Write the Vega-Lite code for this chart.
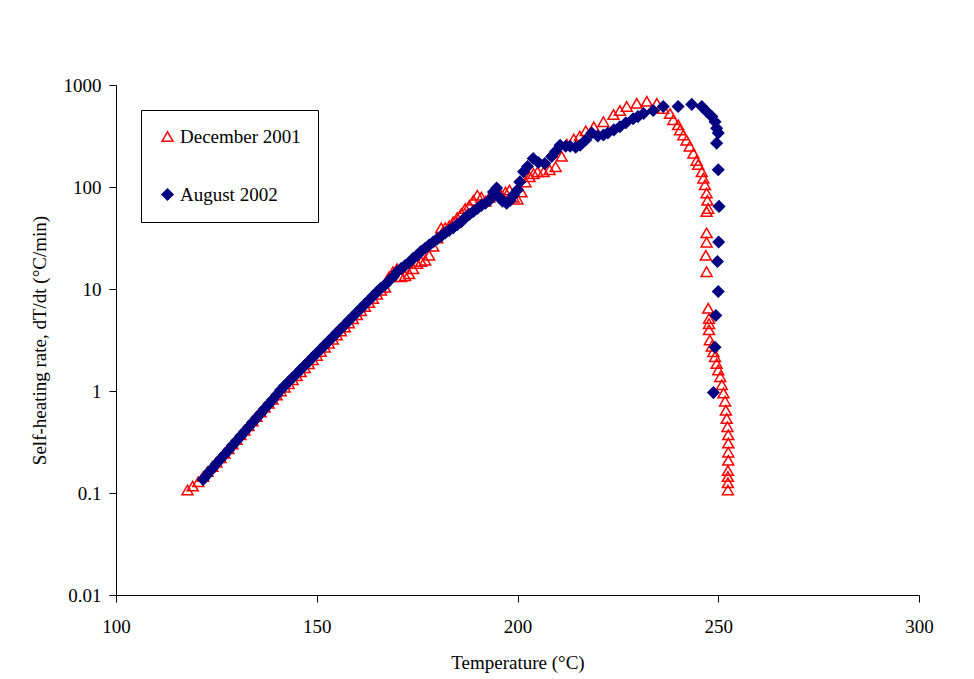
{
  "$schema": "https://vega.github.io/schema/vega-lite/v6.json",
  "width": 803,
  "height": 510,
  "autosize": {"type": "none"},
  "padding": {"left": 116, "top": 85, "right": 55, "bottom": 84},
  "background": "white",
  "config": {
    "view": {"stroke": null},
    "font": "Liberation Serif",
    "axis": {"labelFont": "Liberation Serif", "titleFont": "Liberation Serif", "labelColor": "black", "titleColor": "black", "labelFontSize": 19, "titleFontSize": 19, "titleFontWeight": "normal", "domainColor": "black", "tickColor": "black", "tickSize": 7, "grid": false, "labelFlush": false},
    "legend": {"labelFont": "Liberation Serif", "labelFontSize": 19, "labelColor": "black"}
  },
  "data": {"values": [
    {"Series": "December 2001", "T": 117.8, "rate": 0.107},
    {"Series": "December 2001", "T": 119.1, "rate": 0.117},
    {"Series": "December 2001", "T": 120.5, "rate": 0.129},
    {"Series": "December 2001", "T": 121.7, "rate": 0.145},
    {"Series": "December 2001", "T": 122.8, "rate": 0.162},
    {"Series": "December 2001", "T": 124, "rate": 0.182},
    {"Series": "December 2001", "T": 125, "rate": 0.2},
    {"Series": "December 2001", "T": 126, "rate": 0.221},
    {"Series": "December 2001", "T": 127, "rate": 0.245},
    {"Series": "December 2001", "T": 128, "rate": 0.272},
    {"Series": "December 2001", "T": 129, "rate": 0.302},
    {"Series": "December 2001", "T": 130, "rate": 0.335},
    {"Series": "December 2001", "T": 131, "rate": 0.372},
    {"Series": "December 2001", "T": 132, "rate": 0.412},
    {"Series": "December 2001", "T": 133, "rate": 0.457},
    {"Series": "December 2001", "T": 134, "rate": 0.507},
    {"Series": "December 2001", "T": 135, "rate": 0.562},
    {"Series": "December 2001", "T": 136, "rate": 0.624},
    {"Series": "December 2001", "T": 137, "rate": 0.692},
    {"Series": "December 2001", "T": 138, "rate": 0.759},
    {"Series": "December 2001", "T": 139, "rate": 0.832},
    {"Series": "December 2001", "T": 140, "rate": 0.912},
    {"Series": "December 2001", "T": 141, "rate": 1.0},
    {"Series": "December 2001", "T": 142, "rate": 1.09},
    {"Series": "December 2001", "T": 143, "rate": 1.18},
    {"Series": "December 2001", "T": 144, "rate": 1.29},
    {"Series": "December 2001", "T": 145, "rate": 1.41},
    {"Series": "December 2001", "T": 146, "rate": 1.54},
    {"Series": "December 2001", "T": 147, "rate": 1.69},
    {"Series": "December 2001", "T": 148, "rate": 1.85},
    {"Series": "December 2001", "T": 149, "rate": 2.03},
    {"Series": "December 2001", "T": 150, "rate": 2.23},
    {"Series": "December 2001", "T": 151, "rate": 2.44},
    {"Series": "December 2001", "T": 152, "rate": 2.68},
    {"Series": "December 2001", "T": 153, "rate": 2.94},
    {"Series": "December 2001", "T": 154, "rate": 3.22},
    {"Series": "December 2001", "T": 155, "rate": 3.53},
    {"Series": "December 2001", "T": 156, "rate": 3.87},
    {"Series": "December 2001", "T": 157, "rate": 4.24},
    {"Series": "December 2001", "T": 158, "rate": 4.65},
    {"Series": "December 2001", "T": 159, "rate": 5.1},
    {"Series": "December 2001", "T": 160, "rate": 5.59},
    {"Series": "December 2001", "T": 161, "rate": 6.13},
    {"Series": "December 2001", "T": 162, "rate": 6.73},
    {"Series": "December 2001", "T": 163, "rate": 7.37},
    {"Series": "December 2001", "T": 164, "rate": 8.09},
    {"Series": "December 2001", "T": 165, "rate": 8.87},
    {"Series": "December 2001", "T": 166, "rate": 9.72},
    {"Series": "December 2001", "T": 167, "rate": 10.4},
    {"Series": "December 2001", "T": 168, "rate": 13.2},
    {"Series": "December 2001", "T": 169, "rate": 14.8},
    {"Series": "December 2001", "T": 170, "rate": 15.8},
    {"Series": "December 2001", "T": 171, "rate": 13.2},
    {"Series": "December 2001", "T": 172, "rate": 13.5},
    {"Series": "December 2001", "T": 173, "rate": 14.1},
    {"Series": "December 2001", "T": 174, "rate": 15.8},
    {"Series": "December 2001", "T": 175, "rate": 17.8},
    {"Series": "December 2001", "T": 176, "rate": 18.6},
    {"Series": "December 2001", "T": 177, "rate": 19.1},
    {"Series": "December 2001", "T": 178, "rate": 21.4},
    {"Series": "December 2001", "T": 179, "rate": 26.3},
    {"Series": "December 2001", "T": 180, "rate": 31.6},
    {"Series": "December 2001", "T": 181, "rate": 39.8},
    {"Series": "December 2001", "T": 182, "rate": 39.8},
    {"Series": "December 2001", "T": 183, "rate": 41.7},
    {"Series": "December 2001", "T": 184, "rate": 45.7},
    {"Series": "December 2001", "T": 185, "rate": 50.1},
    {"Series": "December 2001", "T": 186, "rate": 55.0},
    {"Series": "December 2001", "T": 187, "rate": 61.7},
    {"Series": "December 2001", "T": 188, "rate": 66.1},
    {"Series": "December 2001", "T": 189, "rate": 74.1},
    {"Series": "December 2001", "T": 190, "rate": 83.2},
    {"Series": "December 2001", "T": 191, "rate": 79.4},
    {"Series": "December 2001", "T": 192, "rate": 72.4},
    {"Series": "December 2001", "T": 193, "rate": 79.4},
    {"Series": "December 2001", "T": 194, "rate": 87.1},
    {"Series": "December 2001", "T": 195, "rate": 85.1},
    {"Series": "December 2001", "T": 196, "rate": 83.2},
    {"Series": "December 2001", "T": 197, "rate": 89.1},
    {"Series": "December 2001", "T": 198, "rate": 93.3},
    {"Series": "December 2001", "T": 199, "rate": 79.4},
    {"Series": "December 2001", "T": 200, "rate": 75.9},
    {"Series": "December 2001", "T": 201, "rate": 89.1},
    {"Series": "December 2001", "T": 202, "rate": 112},
    {"Series": "December 2001", "T": 203, "rate": 126},
    {"Series": "December 2001", "T": 204, "rate": 135},
    {"Series": "December 2001", "T": 205, "rate": 141},
    {"Series": "December 2001", "T": 206.5, "rate": 141},
    {"Series": "December 2001", "T": 208, "rate": 148},
    {"Series": "December 2001", "T": 209.5, "rate": 158},
    {"Series": "December 2001", "T": 211, "rate": 200},
    {"Series": "December 2001", "T": 212.3, "rate": 263},
    {"Series": "December 2001", "T": 214, "rate": 295},
    {"Series": "December 2001", "T": 215.5, "rate": 316},
    {"Series": "December 2001", "T": 217, "rate": 355},
    {"Series": "December 2001", "T": 219, "rate": 389},
    {"Series": "December 2001", "T": 221.4, "rate": 437},
    {"Series": "December 2001", "T": 223.9, "rate": 513},
    {"Series": "December 2001", "T": 225.5, "rate": 562},
    {"Series": "December 2001", "T": 227.2, "rate": 617},
    {"Series": "December 2001", "T": 229.7, "rate": 661},
    {"Series": "December 2001", "T": 232.2, "rate": 692},
    {"Series": "December 2001", "T": 234.7, "rate": 661},
    {"Series": "December 2001", "T": 236.3, "rate": 589},
    {"Series": "December 2001", "T": 238, "rate": 525},
    {"Series": "December 2001", "T": 238.8, "rate": 457},
    {"Series": "December 2001", "T": 240, "rate": 407},
    {"Series": "December 2001", "T": 240.5, "rate": 363},
    {"Series": "December 2001", "T": 241.3, "rate": 324},
    {"Series": "December 2001", "T": 242.1, "rate": 288},
    {"Series": "December 2001", "T": 242.9, "rate": 251},
    {"Series": "December 2001", "T": 243.8, "rate": 214},
    {"Series": "December 2001", "T": 244.6, "rate": 182},
    {"Series": "December 2001", "T": 245, "rate": 166},
    {"Series": "December 2001", "T": 245.9, "rate": 141},
    {"Series": "December 2001", "T": 246.3, "rate": 122},
    {"Series": "December 2001", "T": 246.7, "rate": 105},
    {"Series": "December 2001", "T": 247.1, "rate": 87.1},
    {"Series": "December 2001", "T": 247.3, "rate": 74.1},
    {"Series": "December 2001", "T": 247.5, "rate": 61.7},
    {"Series": "December 2001", "T": 247.1, "rate": 57.5},
    {"Series": "December 2001", "T": 247.1, "rate": 35.5},
    {"Series": "December 2001", "T": 247.1, "rate": 28.8},
    {"Series": "December 2001", "T": 246.9, "rate": 21.4},
    {"Series": "December 2001", "T": 247.1, "rate": 14.8},
    {"Series": "December 2001", "T": 247.5, "rate": 6.46},
    {"Series": "December 2001", "T": 247.7, "rate": 5.13},
    {"Series": "December 2001", "T": 247.7, "rate": 4.57},
    {"Series": "December 2001", "T": 247.7, "rate": 3.98},
    {"Series": "December 2001", "T": 247.9, "rate": 3.16},
    {"Series": "December 2001", "T": 248.4, "rate": 2.75},
    {"Series": "December 2001", "T": 248.8, "rate": 2.43},
    {"Series": "December 2001", "T": 249.2, "rate": 2.17},
    {"Series": "December 2001", "T": 249.6, "rate": 1.86},
    {"Series": "December 2001", "T": 250.0, "rate": 1.61},
    {"Series": "December 2001", "T": 250.5, "rate": 1.38},
    {"Series": "December 2001", "T": 250.9, "rate": 1.15},
    {"Series": "December 2001", "T": 251.3, "rate": 0.955},
    {"Series": "December 2001", "T": 251.7, "rate": 0.794},
    {"Series": "December 2001", "T": 251.9, "rate": 0.646},
    {"Series": "December 2001", "T": 252.1, "rate": 0.537},
    {"Series": "December 2001", "T": 252.3, "rate": 0.447},
    {"Series": "December 2001", "T": 252.5, "rate": 0.372},
    {"Series": "December 2001", "T": 252.5, "rate": 0.309},
    {"Series": "December 2001", "T": 252.5, "rate": 0.251},
    {"Series": "December 2001", "T": 252.5, "rate": 0.209},
    {"Series": "December 2001", "T": 252.4, "rate": 0.166},
    {"Series": "December 2001", "T": 252.4, "rate": 0.145},
    {"Series": "December 2001", "T": 252.4, "rate": 0.126},
    {"Series": "December 2001", "T": 252.4, "rate": 0.107},
    {"Series": "August 2002", "T": 121.7, "rate": 0.136},
    {"Series": "August 2002", "T": 122.5, "rate": 0.148},
    {"Series": "August 2002", "T": 123.3, "rate": 0.162},
    {"Series": "August 2002", "T": 124, "rate": 0.174},
    {"Series": "August 2002", "T": 125, "rate": 0.193},
    {"Series": "August 2002", "T": 126, "rate": 0.214},
    {"Series": "August 2002", "T": 127, "rate": 0.237},
    {"Series": "August 2002", "T": 128, "rate": 0.263},
    {"Series": "August 2002", "T": 129, "rate": 0.292},
    {"Series": "August 2002", "T": 130, "rate": 0.324},
    {"Series": "August 2002", "T": 131, "rate": 0.359},
    {"Series": "August 2002", "T": 132, "rate": 0.398},
    {"Series": "August 2002", "T": 133, "rate": 0.442},
    {"Series": "August 2002", "T": 134, "rate": 0.49},
    {"Series": "August 2002", "T": 135, "rate": 0.543},
    {"Series": "August 2002", "T": 136, "rate": 0.603},
    {"Series": "August 2002", "T": 137, "rate": 0.668},
    {"Series": "August 2002", "T": 138, "rate": 0.741},
    {"Series": "August 2002", "T": 139, "rate": 0.822},
    {"Series": "August 2002", "T": 140, "rate": 0.912},
    {"Series": "August 2002", "T": 141, "rate": 1.023},
    {"Series": "August 2002", "T": 142, "rate": 1.122},
    {"Series": "August 2002", "T": 143, "rate": 1.23},
    {"Series": "August 2002", "T": 144, "rate": 1.349},
    {"Series": "August 2002", "T": 145, "rate": 1.479},
    {"Series": "August 2002", "T": 146, "rate": 1.622},
    {"Series": "August 2002", "T": 147, "rate": 1.778},
    {"Series": "August 2002", "T": 148, "rate": 1.95},
    {"Series": "August 2002", "T": 149, "rate": 2.138},
    {"Series": "August 2002", "T": 150, "rate": 2.344},
    {"Series": "August 2002", "T": 151, "rate": 2.57},
    {"Series": "August 2002", "T": 152, "rate": 2.818},
    {"Series": "August 2002", "T": 153, "rate": 3.09},
    {"Series": "August 2002", "T": 154, "rate": 3.388},
    {"Series": "August 2002", "T": 155, "rate": 3.715},
    {"Series": "August 2002", "T": 156, "rate": 4.074},
    {"Series": "August 2002", "T": 157, "rate": 4.467},
    {"Series": "August 2002", "T": 158, "rate": 4.898},
    {"Series": "August 2002", "T": 159, "rate": 5.37},
    {"Series": "August 2002", "T": 160, "rate": 5.888},
    {"Series": "August 2002", "T": 161, "rate": 6.457},
    {"Series": "August 2002", "T": 162, "rate": 7.079},
    {"Series": "August 2002", "T": 163, "rate": 7.762},
    {"Series": "August 2002", "T": 164, "rate": 8.511},
    {"Series": "August 2002", "T": 165, "rate": 9.333},
    {"Series": "August 2002", "T": 166, "rate": 10.23},
    {"Series": "August 2002", "T": 167, "rate": 10.96},
    {"Series": "August 2002", "T": 168, "rate": 12.02},
    {"Series": "August 2002", "T": 169, "rate": 13.18},
    {"Series": "August 2002", "T": 170, "rate": 14.79},
    {"Series": "August 2002", "T": 171, "rate": 15.85},
    {"Series": "August 2002", "T": 172, "rate": 16.98},
    {"Series": "August 2002", "T": 173, "rate": 18.2},
    {"Series": "August 2002", "T": 174, "rate": 19.95},
    {"Series": "August 2002", "T": 175, "rate": 21.38},
    {"Series": "August 2002", "T": 176, "rate": 23.44},
    {"Series": "August 2002", "T": 177, "rate": 25.12},
    {"Series": "August 2002", "T": 178, "rate": 26.92},
    {"Series": "August 2002", "T": 179, "rate": 28.84},
    {"Series": "August 2002", "T": 180, "rate": 30.9},
    {"Series": "August 2002", "T": 181, "rate": 33.11},
    {"Series": "August 2002", "T": 182, "rate": 35.48},
    {"Series": "August 2002", "T": 183, "rate": 37.58},
    {"Series": "August 2002", "T": 184, "rate": 39.81},
    {"Series": "August 2002", "T": 185, "rate": 42.66},
    {"Series": "August 2002", "T": 186, "rate": 45.71},
    {"Series": "August 2002", "T": 187, "rate": 50.12},
    {"Series": "August 2002", "T": 188, "rate": 53.7},
    {"Series": "August 2002", "T": 189, "rate": 57.54},
    {"Series": "August 2002", "T": 190, "rate": 61.66},
    {"Series": "August 2002", "T": 191, "rate": 66.07},
    {"Series": "August 2002", "T": 192, "rate": 69.18},
    {"Series": "August 2002", "T": 193, "rate": 74.13},
    {"Series": "August 2002", "T": 194, "rate": 89.13},
    {"Series": "August 2002", "T": 194.8, "rate": 97.7},
    {"Series": "August 2002", "T": 195.5, "rate": 79.43},
    {"Series": "August 2002", "T": 196.3, "rate": 72.44},
    {"Series": "August 2002", "T": 197.3, "rate": 69.18},
    {"Series": "August 2002", "T": 198.2, "rate": 74.13},
    {"Series": "August 2002", "T": 199, "rate": 83.18},
    {"Series": "August 2002", "T": 200, "rate": 93.33},
    {"Series": "August 2002", "T": 200.6, "rate": 112.2},
    {"Series": "August 2002", "T": 201.5, "rate": 141.3},
    {"Series": "August 2002", "T": 202.5, "rate": 158.5},
    {"Series": "August 2002", "T": 203.9, "rate": 190.5},
    {"Series": "August 2002", "T": 205.2, "rate": 173.8},
    {"Series": "August 2002", "T": 206.8, "rate": 169.8},
    {"Series": "August 2002", "T": 208.5, "rate": 199.5},
    {"Series": "August 2002", "T": 209.5, "rate": 223.9},
    {"Series": "August 2002", "T": 210.6, "rate": 257.0},
    {"Series": "August 2002", "T": 212, "rate": 251.2},
    {"Series": "August 2002", "T": 213.1, "rate": 251.2},
    {"Series": "August 2002", "T": 214.5, "rate": 245.5},
    {"Series": "August 2002", "T": 215.6, "rate": 257.0},
    {"Series": "August 2002", "T": 217, "rate": 288.4},
    {"Series": "August 2002", "T": 218.5, "rate": 338.8},
    {"Series": "August 2002", "T": 220, "rate": 316.2},
    {"Series": "August 2002", "T": 221.4, "rate": 323.6},
    {"Series": "August 2002", "T": 222.5, "rate": 338.8},
    {"Series": "August 2002", "T": 224, "rate": 363.1},
    {"Series": "August 2002", "T": 225.5, "rate": 389.0},
    {"Series": "August 2002", "T": 227, "rate": 426.6},
    {"Series": "August 2002", "T": 228.8, "rate": 467.7},
    {"Series": "August 2002", "T": 230, "rate": 489.8},
    {"Series": "August 2002", "T": 231.4, "rate": 524.8},
    {"Series": "August 2002", "T": 233.8, "rate": 562.3},
    {"Series": "August 2002", "T": 236.3, "rate": 616.6},
    {"Series": "August 2002", "T": 240, "rate": 616.6},
    {"Series": "August 2002", "T": 243.4, "rate": 645.7},
    {"Series": "August 2002", "T": 245.9, "rate": 616.6},
    {"Series": "August 2002", "T": 247.1, "rate": 549.5},
    {"Series": "August 2002", "T": 248.4, "rate": 489.8},
    {"Series": "August 2002", "T": 249.2, "rate": 436.5},
    {"Series": "August 2002", "T": 249.6, "rate": 375.8},
    {"Series": "August 2002", "T": 250.0, "rate": 338.8},
    {"Series": "August 2002", "T": 249.6, "rate": 269.2},
    {"Series": "August 2002", "T": 250.0, "rate": 147.9},
    {"Series": "August 2002", "T": 250.2, "rate": 64.57},
    {"Series": "August 2002", "T": 250.1, "rate": 28.84},
    {"Series": "August 2002", "T": 249.8, "rate": 18.62},
    {"Series": "August 2002", "T": 250.0, "rate": 9.44},
    {"Series": "August 2002", "T": 249.4, "rate": 5.5},
    {"Series": "August 2002", "T": 249.2, "rate": 2.69},
    {"Series": "August 2002", "T": 248.8, "rate": 0.964}
  ]},
  "mark": {"type": "point", "size": 120, "strokeWidth": 1.5, "opacity": 1},
  "encoding": {
    "x": {
      "field": "T", "type": "quantitative",
      "scale": {"domain": [100, 300], "nice": false, "zero": false},
      "axis": {"values": [100, 150, 200, 250, 300], "title": "Temperature (°C)", "labelPadding": 15, "titlePadding": 17}
    },
    "y": {
      "field": "rate", "type": "quantitative",
      "scale": {"type": "log", "domain": [0.01, 1000], "nice": false},
      "axis": {"values": [0.01, 0.1, 1, 10, 100, 1000], "format": "~g", "title": "Self-heating rate, dT/dt  (°C/min)", "labelPadding": 8, "titlePadding": 14}
    },
    "shape": {
      "field": "Series", "type": "nominal",
      "scale": {"domain": ["December 2001", "August 2002"], "range": ["triangle-up", "diamond"]},
      "legend": {"title": null, "orient": "none", "legendX": 25, "legendY": 25, "padding": 17, "rowPadding": 38, "labelOffset": 3, "symbolSize": 120, "symbolStrokeWidth": 1.5, "strokeColor": "black", "fillColor": "white", "cornerRadius": 0}
    },
    "stroke": {
      "field": "Series", "type": "nominal",
      "scale": {"domain": ["December 2001", "August 2002"], "range": ["#FF0000", "#000080"]},
      "legend": {"title": null, "orient": "none", "legendX": 25, "legendY": 25, "padding": 17, "rowPadding": 38, "labelOffset": 3, "symbolSize": 120, "symbolStrokeWidth": 1.5, "strokeColor": "black", "fillColor": "white", "cornerRadius": 0}
    },
    "fill": {
      "field": "Series", "type": "nominal",
      "scale": {"domain": ["December 2001", "August 2002"], "range": ["transparent", "#000080"]},
      "legend": {"title": null, "orient": "none", "legendX": 25, "legendY": 25, "padding": 17, "rowPadding": 38, "labelOffset": 3, "symbolSize": 120, "symbolStrokeWidth": 1.5, "strokeColor": "black", "fillColor": "white", "cornerRadius": 0}
    }
  }
}
